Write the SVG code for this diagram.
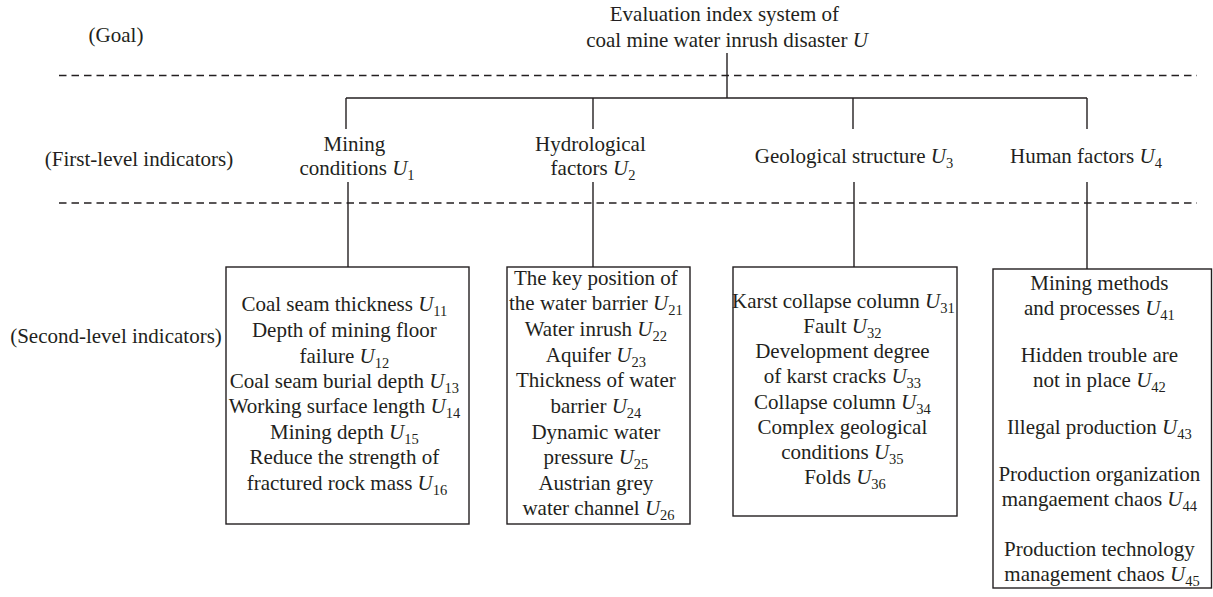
<svg xmlns="http://www.w3.org/2000/svg" width="1213" height="597" viewBox="0 0 1213 597">
  <style>
    .t { font-family: "Liberation Serif", "Times New Roman", serif; font-size: 21px; fill: #231f20; }
    .i { font-style: italic; }
    .s { font-size: 14.5px; }
    .box { fill: none; stroke: #231f20; stroke-width: 1.4; }
    .ln { fill: none; stroke: #231f20; stroke-width: 1.4; }
    .dash { fill: none; stroke: #231f20; stroke-width: 1.3; stroke-dasharray: 7.5 5; }
  </style>
  <rect width="1213" height="597" fill="#ffffff"/>

  <!-- level labels and separators -->
  <g id="levels">
    <text class="t" x="116" y="42" text-anchor="middle">(Goal)</text>
    <text class="t" x="139" y="166" text-anchor="middle">(First-level indicators)</text>
    <text class="t" x="116" y="343" text-anchor="middle">(Second-level indicators)</text>
    <line class="dash" x1="59" y1="75.5" x2="1197" y2="75.5"/>
    <line class="dash" x1="59" y1="203" x2="1197" y2="203"/>
  </g>

  <!-- connectors -->
  <g id="connectors">
    <line class="ln" x1="727" y1="53" x2="727" y2="98"/>
    <line class="ln" x1="346" y1="98" x2="1087" y2="98"/>
    <line class="ln" x1="346" y1="98" x2="346" y2="129"/>
    <line class="ln" x1="593" y1="98" x2="593" y2="129"/>
    <line class="ln" x1="853" y1="98" x2="853" y2="129"/>
    <line class="ln" x1="1087" y1="98" x2="1087" y2="129"/>
    <line class="ln" x1="348" y1="182" x2="348" y2="267"/>
    <line class="ln" x1="593" y1="182" x2="593" y2="267"/>
    <line class="ln" x1="854" y1="182" x2="854" y2="267"/>
    <line class="ln" x1="1087" y1="182" x2="1087" y2="269"/>
  </g>

  <!-- goal -->
  <g id="goal">
    <text class="t" text-anchor="middle">
      <tspan x="727" y="21">Evaluation index system of</tspan>
      <tspan x="727" y="47">coal mine water inrush disaster <tspan class="i">U</tspan></tspan>
    </text>
  </g>

  <!-- first-level indicators -->
  <g id="u1">
    <text class="t" text-anchor="middle">
      <tspan x="357" y="151">Mining</tspan>
      <tspan x="357" y="175">conditions <tspan class="i">U</tspan><tspan class="s" dy="5">1</tspan></tspan>
    </text>
  </g>
  <g id="u2">
    <text class="t" text-anchor="middle">
      <tspan x="593" y="151">Hydrological</tspan>
      <tspan x="593" y="175">factors <tspan class="i">U</tspan><tspan class="s" dy="5">2</tspan></tspan>
    </text>
  </g>
  <g id="u3">
    <text class="t" x="854" y="163" text-anchor="middle">Geological structure <tspan class="i">U</tspan><tspan class="s" dy="5">3</tspan></text>
  </g>
  <g id="u4">
    <text class="t" x="1086" y="163" text-anchor="middle">Human factors <tspan class="i">U</tspan><tspan class="s" dy="5">4</tspan></text>
  </g>

  <!-- second-level indicators -->
  <g id="u1x">
    <rect class="box" x="226" y="267" width="243" height="257"/>
    <text class="t" text-anchor="middle">
      <tspan x="347" y="311">Coal seam thickness <tspan class="i">U</tspan><tspan class="s" dy="5">11</tspan></tspan>
      <tspan x="347" y="337">Depth of mining floor</tspan>
      <tspan x="347" y="363">failure <tspan class="i">U</tspan><tspan class="s" dy="5">12</tspan></tspan>
      <tspan x="347" y="388">Coal seam burial depth <tspan class="i">U</tspan><tspan class="s" dy="5">13</tspan></tspan>
      <tspan x="347" y="413">Working surface length <tspan class="i">U</tspan><tspan class="s" dy="5">14</tspan></tspan>
      <tspan x="347" y="439">Mining depth <tspan class="i">U</tspan><tspan class="s" dy="5">15</tspan></tspan>
      <tspan x="347" y="464">Reduce the strength of</tspan>
      <tspan x="347" y="490">fractured rock mass <tspan class="i">U</tspan><tspan class="s" dy="5">16</tspan></tspan>
    </text>
  </g>

  <g id="u2x">
    <rect class="box" x="507" y="267" width="183" height="257"/>
    <text class="t" text-anchor="middle">
      <tspan x="598.5" y="285">The key position of</tspan>
      <tspan x="598.5" y="310">the water barrier <tspan class="i">U</tspan><tspan class="s" dy="5">21</tspan></tspan>
      <tspan x="598.5" y="336">Water inrush <tspan class="i">U</tspan><tspan class="s" dy="5">22</tspan></tspan>
      <tspan x="598.5" y="362">Aquifer <tspan class="i">U</tspan><tspan class="s" dy="5">23</tspan></tspan>
      <tspan x="598.5" y="387">Thickness of water</tspan>
      <tspan x="598.5" y="413">barrier <tspan class="i">U</tspan><tspan class="s" dy="5">24</tspan></tspan>
      <tspan x="598.5" y="439">Dynamic water</tspan>
      <tspan x="598.5" y="464">pressure <tspan class="i">U</tspan><tspan class="s" dy="5">25</tspan></tspan>
      <tspan x="598.5" y="490">Austrian grey</tspan>
      <tspan x="598.5" y="515">water channel <tspan class="i">U</tspan><tspan class="s" dy="5">26</tspan></tspan>
    </text>
  </g>

  <g id="u3x">
    <rect class="box" x="733" y="267" width="224" height="249"/>
    <text class="t" text-anchor="middle">
      <tspan x="846" y="308">Karst collapse column <tspan class="i">U</tspan><tspan class="s" dy="5">31</tspan></tspan>
      <tspan x="845" y="333">Fault <tspan class="i">U</tspan><tspan class="s" dy="5">32</tspan></tspan>
      <tspan x="845" y="358">Development degree</tspan>
      <tspan x="845" y="383">of karst cracks <tspan class="i">U</tspan><tspan class="s" dy="5">33</tspan></tspan>
      <tspan x="845" y="409">Collapse column <tspan class="i">U</tspan><tspan class="s" dy="5">34</tspan></tspan>
      <tspan x="845" y="434">Complex geological</tspan>
      <tspan x="845" y="459">conditions <tspan class="i">U</tspan><tspan class="s" dy="5">35</tspan></tspan>
      <tspan x="845" y="484">Folds <tspan class="i">U</tspan><tspan class="s" dy="5">36</tspan></tspan>
    </text>
  </g>

  <g id="u4x">
    <rect class="box" x="993" y="269" width="218.5" height="319"/>
    <text class="t" text-anchor="middle">
      <tspan x="1102" y="290">Mining methods</tspan>
      <tspan x="1102" y="315">and processes <tspan class="i">U</tspan><tspan class="s" dy="5">41</tspan></tspan>
      <tspan x="1102" y="362">Hidden trouble are</tspan>
      <tspan x="1102" y="387">not in place <tspan class="i">U</tspan><tspan class="s" dy="5">42</tspan></tspan>
      <tspan x="1102" y="434">Illegal production <tspan class="i">U</tspan><tspan class="s" dy="5">43</tspan></tspan>
      <tspan x="1102" y="481">Production organization</tspan>
      <tspan x="1102" y="506">mangaement chaos <tspan class="i">U</tspan><tspan class="s" dy="5">44</tspan></tspan>
      <tspan x="1102" y="556">Production technology</tspan>
      <tspan x="1102" y="581">management chaos <tspan class="i">U</tspan><tspan class="s" dy="5">45</tspan></tspan>
    </text>
  </g>
</svg>
